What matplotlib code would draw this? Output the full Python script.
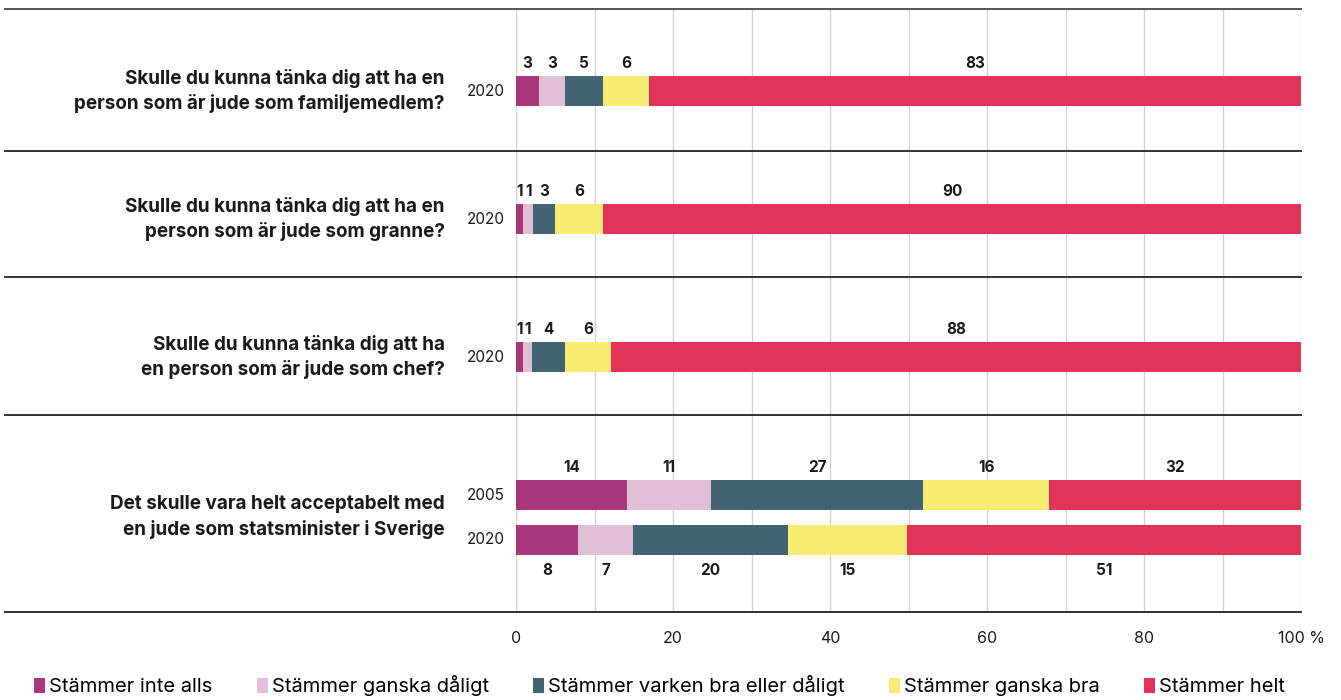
import matplotlib.pyplot as plt
import numpy as np
from matplotlib.patches import Patch
from matplotlib.transforms import blended_transform_factory

plt.rcParams['font.family'] = ['Inter', 'DejaVu Sans']

# data
categories = ['Stämmer inte alls', 'Stämmer ganska dåligt', 'Stämmer varken bra eller dåligt',
              'Stämmer ganska bra', 'Stämmer helt']
colors = ['#a8387a', '#e0bfd8', '#426371', '#f9ec74', '#e43358']

questions = [
    'Skulle du kunna tänka dig att ha en\nperson som är jude som familjemedlem?',
    'Skulle du kunna tänka dig att ha en\nperson som är jude som granne?',
    'Skulle du kunna tänka dig att ha\nen person som är jude som chef?',
    'Det skulle vara helt acceptabelt med\nen jude som statsminister i Sverige',
]
bar_years = ['2020', '2020', '2020', '2005', '2020']

# shares as drawn (percent)
familj_2020 = [2.9, 3.4, 4.8, 5.9, 83.0]
granne_2020 = [0.9, 1.3, 2.8, 6.1, 88.9]
chef_2020 = [0.9, 1.1, 4.2, 5.9, 87.9]
statsmin_2005 = [14.1, 10.8, 27.0, 16.0, 32.1]
statsmin_2020 = [7.9, 7.0, 19.7, 15.2, 50.2]
shares = [familj_2020, granne_2020, chef_2020, statsmin_2005, statsmin_2020]

# printed labels (rounded)
familj_lbl = [3, 3, 5, 6, 83]
granne_lbl = [1, 1, 3, 6, 90]
chef_lbl = [1, 1, 4, 6, 88]
statsmin_2005_lbl = [14, 11, 27, 16, 32]
statsmin_2020_lbl = [8, 7, 20, 15, 51]
labels = [familj_lbl, granne_lbl, chef_lbl, statsmin_2005_lbl, statsmin_2020_lbl]

# layout (pixel-like y units, top to bottom)
bar_y = [91, 219, 357, 495, 540]
label_below = [False, False, False, False, True]
separators = [9, 151, 277, 415, 612]
question_y = [91, 219, 357, 517]
bar_h = 30

W, H = 1341, 700
fig = plt.figure(figsize=(W / 100, H / 100), dpi=100)
ax = fig.add_axes([516 / W, 1 - 612 / H, 785 / W, 603 / H])
ax.set_xlim(0, 100)
ax.set_ylim(612, 9)

for x in np.arange(0, 101, 10):
    ax.axvline(x, color='#d4d4d4', lw=1, zorder=0)

for i, row in enumerate(shares):
    left = np.concatenate([[0], np.cumsum(row)[:-1]])
    ax.barh(bar_y[i], row, left=left, height=bar_h, color=colors, zorder=2)
    for l, w, t in zip(left, row, labels[i]):
        xc = l + w / 2
        if label_below[i]:
            ax.text(xc, bar_y[i] + bar_h / 2 + 8, str(t), ha='center', va='top',
                    fontsize=11, fontweight='bold', color='#1a1a1a')
        else:
            ax.text(xc, bar_y[i] - bar_h / 2 - 5, str(t), ha='center', va='bottom',
                    fontsize=11, fontweight='bold', color='#1a1a1a')
    ax.text(-1.4, bar_y[i], bar_years[i], ha='right', va='center', fontsize=11,
            color='#1a1a1a')

for j, s in enumerate(separators):
    ax.axhline(s, xmin=(5 - 516) / 785, xmax=1, color='#333333' if j else '#555555',
               lw=1.4, clip_on=False, zorder=3)

trans = blended_transform_factory(fig.transFigure, ax.transData)
for q, y in zip(questions, question_y):
    fig.text(445 / W, y, q, transform=trans, ha='right', va='center', fontsize=13.6,
             fontweight='bold', color='#1a1a1a', linespacing=1.42)

ax.set_xticks([0, 20, 40, 60, 80, 100])
ax.set_xticklabels(['0', '20', '40', '60', '80', '100 %'])
ax.tick_params(axis='x', length=0, pad=14, labelsize=11.5, colors='#1a1a1a')
ax.set_yticks([])
for sp in ax.spines.values():
    sp.set_visible(False)

handles = [Patch(facecolor=c) for c in colors]
fig.legend(handles, categories, loc='center left', bbox_to_anchor=(34 / W, 1 - 686 / H),
           ncol=5, frameon=False, fontsize=14.5, handlelength=0.55, handleheight=0.7,
           handletextpad=0.2, columnspacing=2.2, borderaxespad=0, borderpad=0)

fig.savefig('out.png', dpi=100)
